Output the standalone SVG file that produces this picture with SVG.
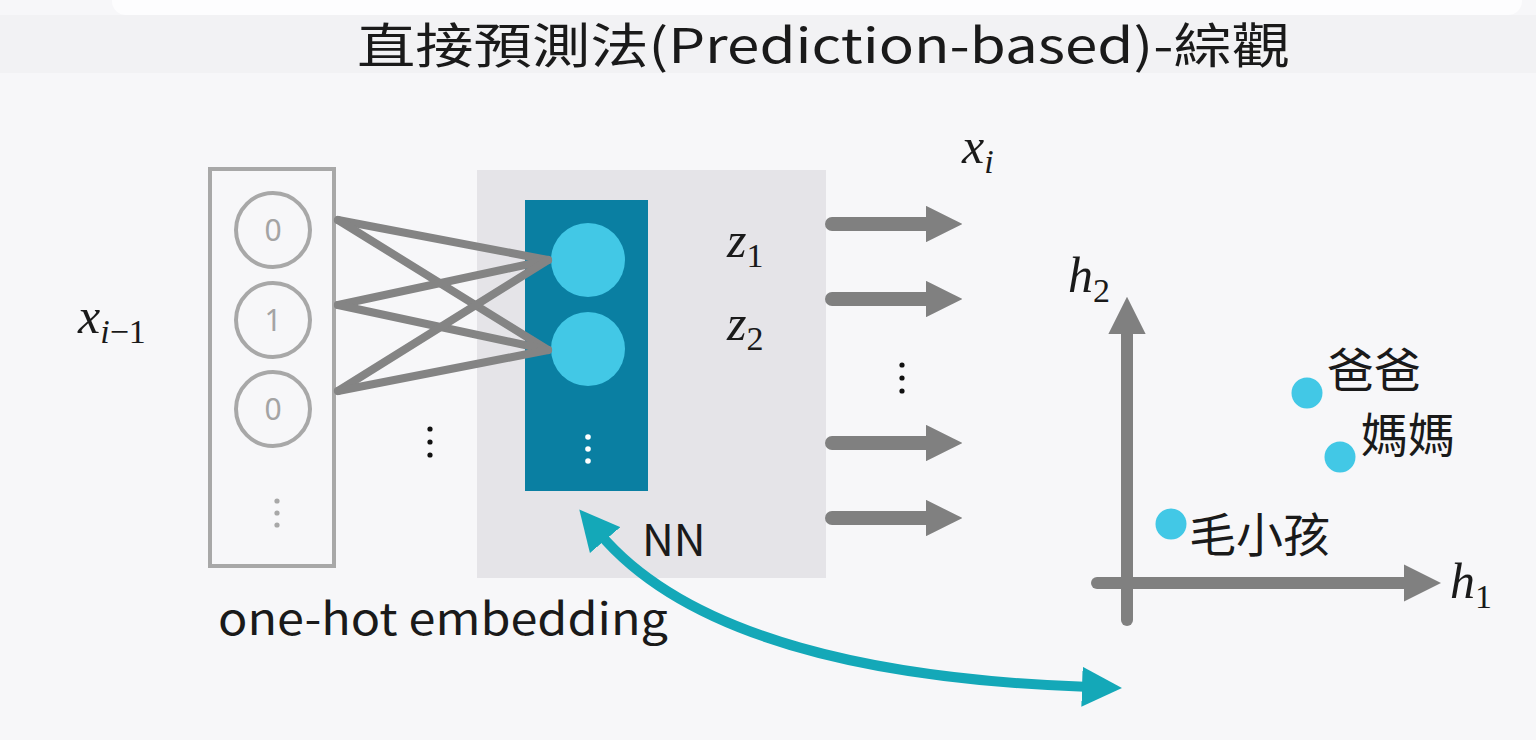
<svg xmlns="http://www.w3.org/2000/svg" width="1536" height="740" viewBox="0 0 1536 740">
  <style>
    .title { font-family: "Noto Sans CJK TC", "Noto Sans", sans-serif; font-size: 48px; fill: #1a1a1a; }
    .label { font-family: "Noto Sans CJK TC", "Noto Sans", sans-serif; fill: #1a1a1a; }
    .math { font-family: "Liberation Serif", "DejaVu Serif", serif; font-style: italic; font-size: 50px; fill: #1a1a1a; }
    .sub { font-size: 34px; }
    .num { font-style: normal; }
    .bit { font-family: "Noto Sans", sans-serif; font-size: 30px; fill: #a4a4a4; text-anchor: middle; }
    .cell { fill: none; stroke: #a8a8a8; stroke-width: 4; }
    .wire { stroke: #848484; stroke-width: 8; stroke-linecap: round; }
    .out { stroke: #808080; stroke-width: 14; stroke-linecap: round; fill: none; }
    .axis { stroke: #808080; stroke-width: 12; stroke-linecap: round; fill: none; }
    .unit { fill: #42c8e6; }
  </style>
  <defs>
    <marker id="grayHead" viewBox="0 0 10 10" refX="0" refY="5" markerWidth="2.6" markerHeight="2.6" orient="auto" markerUnits="strokeWidth">
      <path d="M0,0 L10,5 L0,10 Z" fill="#808080"/>
    </marker>
    <marker id="axisHead" viewBox="0 0 10 10" refX="0" refY="5" markerWidth="3.1" markerHeight="3.1" orient="auto" markerUnits="strokeWidth">
      <path d="M0,0 L10,5 L0,10 Z" fill="#808080"/>
    </marker>
    <marker id="tealHead" viewBox="0 0 10 10" refX="2" refY="5" markerWidth="4" markerHeight="4" orient="auto-start-reverse" markerUnits="strokeWidth">
      <path d="M0,0 L10,5 L0,10 Z" fill="#14a8b8"/>
    </marker>
  </defs>

  <!-- page -->
  <rect x="0" y="0" width="1536" height="740" fill="#f7f7f9"/>
  <rect x="0" y="15" width="1536" height="58" fill="#f2f2f4"/>
  <rect x="112" y="-20" width="1410" height="35" rx="14" fill="#fdfdfe"/>

  <text class="title" x="357" y="63" textLength="933" lengthAdjust="spacingAndGlyphs">直接預測法(Prediction-based)-綜觀</text>

  <!-- input label -->
  <text class="math" x="78" y="333">x<tspan class="sub" dy="10">i<tspan class="num">−1</tspan></tspan></text>

  <!-- one-hot vector -->
  <g id="onehot">
    <rect x="210" y="169" width="124" height="397" class="cell"/>
    <circle cx="273" cy="230" r="37" class="cell"/>
    <circle cx="273" cy="320" r="37" class="cell"/>
    <circle cx="273" cy="409" r="37" class="cell"/>
    <text class="bit" x="273" y="241">0</text>
    <text class="bit" x="273" y="331">1</text>
    <text class="bit" x="273" y="420">0</text>
    <circle cx="277" cy="501" r="2.6" fill="#a8a8a8"/>
    <circle cx="277" cy="513" r="2.6" fill="#a8a8a8"/>
    <circle cx="277" cy="525" r="2.6" fill="#a8a8a8"/>
  </g>

  <!-- network block -->
  <g id="nn">
    <rect x="477" y="170" width="349" height="408" fill="#e5e4e8"/>
    <text class="label" x="642" y="556" font-size="44">NN</text>
  </g>

  <!-- embedding layer -->
  <g id="embedding">
    <rect x="525" y="200" width="123" height="291" fill="#0a7fa2"/>
    <circle cx="588" cy="260" r="37" class="unit"/>
    <circle cx="588" cy="349" r="37" class="unit"/>
    <circle cx="588" cy="437" r="2.8" fill="#ffffff"/>
    <circle cx="588" cy="449" r="2.8" fill="#ffffff"/>
    <circle cx="588" cy="461" r="2.8" fill="#ffffff"/>
  </g>

  <text class="label" x="218" y="635" font-size="44" textLength="450" lengthAdjust="spacingAndGlyphs">one-hot embedding</text>

  <!-- weights between input and embedding -->
  <g id="connectors">
    <line class="wire" x1="338" y1="220" x2="548" y2="260"/>
    <line class="wire" x1="338" y1="220" x2="548" y2="350"/>
    <line class="wire" x1="338" y1="305" x2="548" y2="260"/>
    <line class="wire" x1="338" y1="305" x2="548" y2="350"/>
    <line class="wire" x1="338" y1="391" x2="548" y2="260"/>
    <line class="wire" x1="338" y1="391" x2="548" y2="350"/>

    <!-- outputs -->
    <line class="out" x1="832" y1="224" x2="926" y2="224" marker-end="url(#grayHead)"/>
    <line class="out" x1="832" y1="299" x2="926" y2="299" marker-end="url(#grayHead)"/>
    <line class="out" x1="832" y1="443" x2="926" y2="443" marker-end="url(#grayHead)"/>
    <line class="out" x1="832" y1="518" x2="926" y2="518" marker-end="url(#grayHead)"/>

    <!-- embedding to feature space -->
    <path d="M600,534 C690,640 880,680 1090,687" fill="none" stroke="#14a8b8" stroke-width="10" marker-start="url(#tealHead)" marker-end="url(#tealHead)"/>
  </g>

  <!-- ellipsis dots -->
  <circle cx="430" cy="429" r="2.6" fill="#111"/>
  <circle cx="430" cy="442" r="2.6" fill="#111"/>
  <circle cx="430" cy="455" r="2.6" fill="#111"/>
  <circle cx="902" cy="365" r="2.6" fill="#111"/>
  <circle cx="902" cy="378" r="2.6" fill="#111"/>
  <circle cx="902" cy="391" r="2.6" fill="#111"/>

  <text class="math" x="727" y="257">z<tspan class="sub num" dy="10">1</tspan></text>
  <text class="math" x="727" y="340">z<tspan class="sub num" dy="10">2</tspan></text>
  <text class="math" x="962" y="163">x<tspan class="sub" dy="10">i</tspan></text>

  <!-- feature space -->
  <g id="plot">
    <line class="axis" x1="1127" y1="620" x2="1127" y2="334" marker-end="url(#axisHead)"/>
    <line class="axis" x1="1097" y1="583" x2="1404" y2="583" marker-end="url(#axisHead)"/>
    <text class="math" x="1450" y="598">h<tspan class="sub num" dy="10">1</tspan></text>
    <text class="math" x="1068" y="292">h<tspan class="sub num" dy="10">2</tspan></text>
  </g>
  <g id="dad">
    <circle cx="1307" cy="393" r="15.5" class="unit"/>
    <text class="label" x="1327" y="387" font-size="47">爸爸</text>
  </g>
  <g id="mom">
    <circle cx="1340" cy="457" r="15.5" class="unit"/>
    <text class="label" x="1361" y="452" font-size="47">媽媽</text>
  </g>
  <g id="pet">
    <circle cx="1171" cy="524" r="15.5" class="unit"/>
    <text class="label" x="1189" y="552" font-size="47">毛小孩</text>
  </g>
</svg>
